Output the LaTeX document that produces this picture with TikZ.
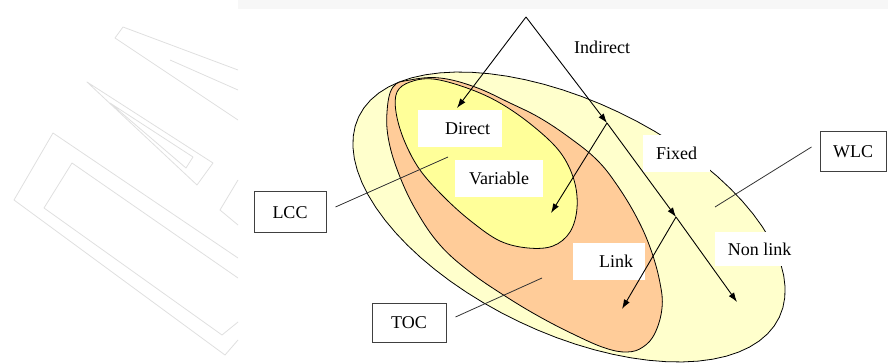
\documentclass[tikz,border=0pt]{standalone}
\usepackage{fontspec}
\setmainfont{Liberation Serif}
\usetikzlibrary{arrows.meta,calc}
\definecolor{wlccol}{HTML}{FFFFCC}
\definecolor{toccol}{HTML}{FFCC99}
\definecolor{lcccol}{HTML}{FFFF99}
\begin{document}
\begin{tikzpicture}[x=1pt,y=-1pt,
  region/.style={draw=black,line width=0.8pt},
  arr/.style={draw=black,line width=0.9pt,-{Latex[length=9.5pt,width=6.5pt]}},
  conn/.style={draw=black!80,line width=0.8pt},
  lbl/.style={fill=white,font=\fontsize{18}{20}\selectfont,minimum height=37pt,inner sep=0pt},
  tagbox/.style={draw=black!75,line width=1pt,fill=white,font=\fontsize{18}{20}\selectfont,inner sep=0pt},
  wm/.style={draw=gray!25,line width=0.8pt,line join=round}]
\useasboundingbox (0,0) rectangle (888,363);
% faint watermark
\fill[gray!6] (238,0) rectangle (888,9);
\draw[wm] (238,258) -- (53,133) -- (14,200) -- (225,355) -- (238,340);
\draw[wm] (238,278) -- (72,163) -- (44,208) -- (222,335) -- (238,322);
\draw[wm] (87,82) -- (213,163) -- (197,185) -- cycle;
\draw[wm] (110,103) -- (193,157) -- (186,168) -- cycle;
\draw[wm] (238,70) -- (123,27) -- (115,38) -- (238,120);
\draw[wm] (170,60) -- (238,90);
\draw[wm] (238,180) -- (220,210) -- (238,225);
% regions
\draw[region,fill=wlccol] plot[domain=0:355,samples=72,variable=\t]
  ({569+233*cos(\t)*cos(25.5)-116*sin(\t)*sin(25.5)},
   {217+233*cos(\t)*sin(25.5)+116*sin(\t)*cos(25.5)}) -- cycle;
\draw[region,fill=toccol] plot[smooth cycle,tension=0.65] coordinates {
  (393,87) (410,80) (440,78) (475,87) (510,103) (540,118) (570,138)
  (597,160) (617,185) (637,218) (651,250) (660,283) (662,308) (655,333)
  (643,347) (627,352) (605,348) (575,335) (540,317) (505,296) (470,272)
  (440,245) (417,212) (400,177) (389,142) (387,112)};
\draw[region,fill=lcccol] plot[smooth cycle,tension=0.6] coordinates {
  (397,92) (410,82) (433,79) (467,88) (500,103) (533,126) (560,152)
  (574,180) (577,208) (570,232) (553,246) (528,248) (500,241) (472,222)
  (445,198) (420,170) (404,140) (396,112)};
% tag boxes
\node[tagbox,minimum width=72pt,minimum height=41pt] (lcc) at (290,212.5) {LCC};
\node[tagbox,minimum width=74pt,minimum height=39pt] (toc) at (409,322.5) {TOC};
\node[tagbox,minimum width=66pt,minimum height=40pt] (wlc) at (853,152) {WLC};
\coordinate (lccend) at (448,157);
\coordinate (tocend) at (542,278);
\coordinate (wlcend) at (715,207);
\draw[conn] ($(lcc.east)+(9,-5.5)$) -- (lccend);
\draw[conn] ($(toc.east)+(9,-5.5)$) -- (tocend);
\draw[conn] ($(wlc.west)+(-8,-5)$) -- (wlcend);
% labels
\node[lbl,minimum width=84pt,text width=60pt,align=right,inner xsep=12pt] (direct) at (460,128.5) {Direct};
\node[lbl,minimum width=88pt] (variable) at (499,178.5) {Variable};
\node[lbl,minimum width=67pt] (fixed) at (676.5,153.5) {Fixed};
\node[lbl,minimum width=89pt,minimum height=34pt] (nonlink) at (759.5,249) {Non link};
\node[lbl,minimum width=72pt,text width=48pt,align=right,inner xsep=12pt] (link) at (609,261.5) {Link};
\node[font=\fontsize{18}{20}\selectfont,inner sep=0pt] (indirect) at (602,47) {Indirect};
% arrows
\coordinate (apex) at (526,17);
\coordinate (pD) at (457,108);
\coordinate (pB) at (607,123);
\coordinate (pV) at (551,213);
\coordinate (pC) at (676,217);
\coordinate (pL) at (622,309);
\coordinate (pN) at (737,302);
\draw[arr] (apex) -- (pD);
\draw[arr] (apex) -- (pB);
\draw[arr] (pB) -- (pV);
\draw[arr] (pB) -- (pC);
\draw[arr] (pC) -- (pL);
\draw[arr] (pC) -- (pN);
\end{tikzpicture}
\end{document}
